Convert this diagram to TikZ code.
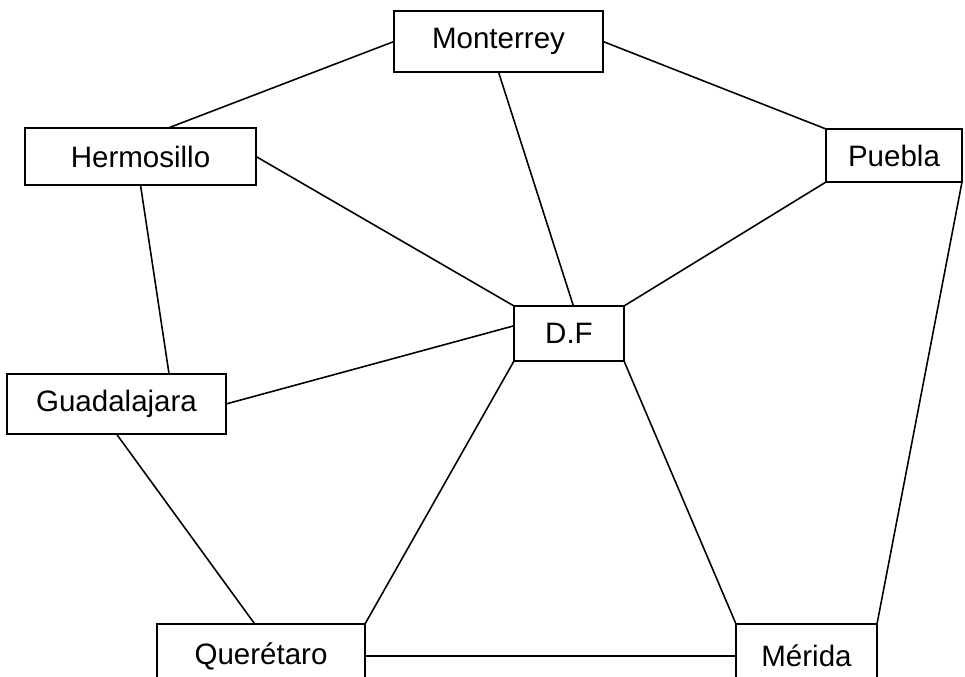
\documentclass[tikz,border=0pt]{standalone}
\usepackage{fontspec}
\setmainfont{Liberation Sans}
\usetikzlibrary{calc}

\begin{document}
\begin{tikzpicture}[
  x=0.2mm,y=-0.2mm,
  every node/.style={font=\fontsize{16.8}{20}\selectfont},
  city/.style={draw,rectangle,line width=1.1pt,inner sep=0pt,outer sep=0pt,fill=white},
  road/.style={line width=0.9pt}
]
\clip (0,0) rectangle (965,677);

\node[city,minimum width=41.8mm,minimum height=12.2mm] (mty) at (498.5,41.5) {Monterrey};
\node[city,minimum width=46.2mm,minimum height=11.4mm] (her) at (140.5,156.5) {Hermosillo};
\node[city,minimum width=27.2mm,minimum height=10.6mm] (pue) at (894,155.5) {Puebla};
\node[city,minimum width=22mm,minimum height=11mm] (df) at (569,333.5) {D.F};
\node[city,minimum width=43.8mm,minimum height=12mm] (gua) at (116.5,404) {Guadalajara};
\node[city,minimum width=41.6mm,minimum height=12.8mm] (que) at (261,656) {Querétaro};
\node[city,minimum width=28.2mm,minimum height=12.8mm] (mer) at (806.5,656) {Mérida};

\draw[road] (mty.west) -- ($(her.north west)!0.62!(her.north east)$);
\draw[road] (mty.east) -- (pue.north west);
\draw[road] (mty.south) -- ($(df.north west)!0.54!(df.north east)$);
\draw[road] (her.east) -- (df.north west);
\draw[road] (pue.south west) -- (df.north east);
\draw[road] (her.south) -- ($(gua.north west)!0.74!(gua.north east)$);
\draw[road] (gua.east) -- ($(df.north west)!0.36!(df.south west)$);
\draw[road] (gua.south) -- ($(que.north west)!0.47!(que.north east)$);
\draw[road] (df.south west) -- (que.north east);
\draw[road] (df.south east) -- (mer.north west);
\draw[road] (que) -- (mer);
\draw[road] (pue.south east) -- (mer.north east);

\end{tikzpicture}
\end{document}
